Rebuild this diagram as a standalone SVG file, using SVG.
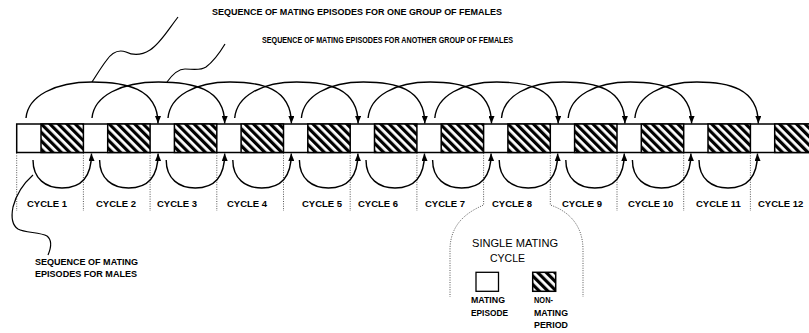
<svg xmlns="http://www.w3.org/2000/svg" width="809" height="333" viewBox="0 0 809 333">
<style>
text{font-family:"Liberation Sans",Arial,sans-serif;fill:#000}
.b{font-weight:bold}
.lab{font-size:9.5px;font-weight:bold}
.sm{font-size:8.5px;font-weight:bold}
.arc{fill:none;stroke:#000;stroke-width:1.4}
.lead{fill:none;stroke:#000;stroke-width:1.2}
.dot{fill:none;stroke:#444;stroke-width:0.9;stroke-dasharray:1 1.4}
.hat{fill:url(#hatch);stroke:#000;stroke-width:1.5}
</style>
<defs>
<pattern id="hatch" patternUnits="userSpaceOnUse" width="6" height="6" patternTransform="rotate(-45)">
<rect width="6" height="6" fill="#fff"/>
<rect width="3.2" height="6" fill="#000"/>
</pattern>
<marker id="ah" viewBox="0 0 7.5 6" refX="7.5" refY="3" markerWidth="7.5" markerHeight="6" markerUnits="userSpaceOnUse" orient="auto">
<path d="M0,0 L7.5,3 L0,6 z" fill="#000"/>
</marker>
</defs>
<rect width="809" height="333" fill="#fff"/>

<g id="bar">
<rect x="16.7" y="124" width="805" height="28.5" fill="#fff" stroke="#000" stroke-width="1.5"/>
<rect class="hat" x="41" y="124" width="42.4" height="28.5"/>
<rect class="hat" x="107.7" y="124" width="42.4" height="28.5"/>
<rect class="hat" x="174.4" y="124" width="42.4" height="28.5"/>
<rect class="hat" x="241.1" y="124" width="42.4" height="28.5"/>
<rect class="hat" x="307.8" y="124" width="42.4" height="28.5"/>
<rect class="hat" x="374.5" y="124" width="42.4" height="28.5"/>
<rect class="hat" x="441.2" y="124" width="42.4" height="28.5"/>
<rect class="hat" x="507.9" y="124" width="42.4" height="28.5"/>
<rect class="hat" x="574.6" y="124" width="42.4" height="28.5"/>
<rect class="hat" x="641.3" y="124" width="42.4" height="28.5"/>
<rect class="hat" x="708" y="124" width="42.4" height="28.5"/>
<rect class="hat" x="774.7" y="124" width="42.4" height="28.5"/>
</g>

<g id="dividers">
<path class="dot" d="M16.7,153 V211 M83.4,153 V211 M150.1,153 V211 M216.8,153 V211 M283.5,153 V211 M350.2,153 V211 M416.9,153 V211 M617,153 V211 M683.7,153 V211 M750.4,153 V211"/>
<path class="dot" d="M483.6,153 V205 C470,211 450,222 450,250 V297"/>
<path class="dot" d="M550.3,153 V205 C565,210 583,222 583,250 V297"/>
</g>

<g id="connectors">
<g id="female-arcs">
<path class="arc" marker-end="url(#ah)" d="M26,118 C28,96 55,82 92,82 C125,82 158,88 158,123.5"/>
<path class="arc" marker-end="url(#ah)" d="M92,118 C94,96 121,82 158.5,82 C192,82 224.7,88 224.7,123.5"/>
<path class="arc" marker-end="url(#ah)" d="M168,118 C170,96 195,82 230,82 C261,82 291.4,88 291.4,123.5"/>
<path class="arc" marker-end="url(#ah)" d="M234.7,118 C236.7,96 261.7,82 296.7,82 C327.7,82 358.1,88 358.1,123.5"/>
<path class="arc" marker-end="url(#ah)" d="M301.4,118 C303.4,96 328.4,82 363.4,82 C394.4,82 424.8,88 424.8,123.5"/>
<path class="arc" marker-end="url(#ah)" d="M368.1,118 C370.1,96 395.1,82 430.1,82 C461.1,82 491.5,88 491.5,123.5"/>
<path class="arc" marker-end="url(#ah)" d="M434.8,118 C436.8,96 461.8,82 496.8,82 C527.8,82 558.2,88 558.2,123.5"/>
<path class="arc" marker-end="url(#ah)" d="M501.5,118 C503.5,96 528.5,82 563.5,82 C594.5,82 624.9,88 624.9,123.5"/>
<path class="arc" marker-end="url(#ah)" d="M568.2,118 C570.2,96 595.2,82 630.2,82 C661.2,82 691.6,88 691.6,123.5"/>
<path class="arc" marker-end="url(#ah)" d="M634.9,118 C636.9,96 661.9,82 696.9,82 C727.9,82 758.3,88 758.3,123.5"/>
</g>
<g id="male-arcs">
<path class="arc" marker-end="url(#ah)" d="M33,160 C33,179 46,188 62,188 C78,188 91.5,181 91.5,153.5"/>
<path class="arc" marker-end="url(#ah)" d="M99.6,160 C99.6,179 112.6,188 128.6,188 C144.6,188 158.1,181 158.1,153.5"/>
<path class="arc" marker-end="url(#ah)" d="M166.2,160 C166.2,179 179.2,188 195.2,188 C211.2,188 224.7,181 224.7,153.5"/>
<path class="arc" marker-end="url(#ah)" d="M232.8,160 C232.8,179 245.8,188 261.8,188 C277.8,188 291.3,181 291.3,153.5"/>
<path class="arc" marker-end="url(#ah)" d="M299.4,160 C299.4,179 312.4,188 328.4,188 C344.4,188 357.9,181 357.9,153.5"/>
<path class="arc" marker-end="url(#ah)" d="M366,160 C366,179 379,188 395,188 C411,188 424.5,181 424.5,153.5"/>
<path class="arc" marker-end="url(#ah)" d="M432.6,160 C432.6,179 445.6,188 461.6,188 C477.6,188 491.1,181 491.1,153.5"/>
<path class="arc" marker-end="url(#ah)" d="M499.2,160 C499.2,179 512.2,188 528.2,188 C544.2,188 557.7,181 557.7,153.5"/>
<path class="arc" marker-end="url(#ah)" d="M565.8,160 C565.8,179 578.8,188 594.8,188 C610.8,188 624.3,181 624.3,153.5"/>
<path class="arc" marker-end="url(#ah)" d="M632.4,160 C632.4,179 645.4,188 661.4,188 C677.4,188 690.9,181 690.9,153.5"/>
<path class="arc" marker-end="url(#ah)" d="M699,160 C699,179 712,188 728,188 C744,188 757.5,181 757.5,153.5"/>
</g>
<g id="leaders">
<path class="lead" d="M178,17 C168,30 160,44 150,50 C142,55 134,56 126,52 C118,49 112,52 106,61 C100,69 96,76 92,82"/>
<path class="lead" d="M225,44 C219,54 214,61 206,67 C200,71 192,69 185,69 C178,69 172,75 167,82"/>
<path class="lead" d="M33,175 C24,183 16,195 13,207 C11,217 12,225 18,229 C25,233 40,232 47,236 C52,240 51,248 48,255"/>
</g>
</g>

<g id="labels-top">
<text class="sm" x="212" y="15" textLength="290" lengthAdjust="spacingAndGlyphs">SEQUENCE OF MATING EPISODES FOR ONE GROUP OF FEMALES</text>
<text class="sm" x="262" y="43" textLength="251" lengthAdjust="spacingAndGlyphs">SEQUENCE OF MATING EPISODES FOR ANOTHER GROUP OF FEMALES</text>
</g>

<g id="cycle-labels">
<text class="lab" x="27" y="207">CYCLE 1</text>
<text class="lab" x="96" y="207">CYCLE 2</text>
<text class="lab" x="157" y="207">CYCLE 3</text>
<text class="lab" x="227" y="207">CYCLE 4</text>
<text class="lab" x="302" y="207">CYCLE 5</text>
<text class="lab" x="358" y="207">CYCLE 6</text>
<text class="lab" x="425" y="207">CYCLE 7</text>
<text class="lab" x="492" y="207">CYCLE 8</text>
<text class="lab" x="562" y="207">CYCLE 9</text>
<text class="lab" x="628" y="207">CYCLE 10</text>
<text class="lab" x="696" y="207">CYCLE 11</text>
<text class="lab" x="758" y="207">CYCLE 12</text>
</g>

<g id="males-label">
<text class="sm" x="35" y="265" textLength="103" lengthAdjust="spacingAndGlyphs">SEQUENCE OF MATING</text>
<text class="sm" x="35" y="277" textLength="102" lengthAdjust="spacingAndGlyphs">EPISODES FOR MALES</text>
</g>

<g id="legend">
<text x="472" y="246.5" font-size="10.5" textLength="86" lengthAdjust="spacingAndGlyphs">SINGLE MATING</text>
<text x="490" y="262" font-size="10.5" textLength="35" lengthAdjust="spacingAndGlyphs">CYCLE</text>
<rect x="476" y="272.3" width="22.5" height="19" fill="#fff" stroke="#000" stroke-width="1.3"/>
<rect class="hat" x="532.7" y="272.3" width="23" height="19" stroke-width="1.3"/>
<text class="sm" x="471" y="303" textLength="34" lengthAdjust="spacingAndGlyphs">MATING</text>
<text class="sm" x="471" y="316" textLength="37" lengthAdjust="spacingAndGlyphs">EPISODE</text>
<text class="sm" x="534" y="303" textLength="19" lengthAdjust="spacingAndGlyphs">NON-</text>
<text class="sm" x="534" y="316" textLength="34" lengthAdjust="spacingAndGlyphs">MATING</text>
<text class="sm" x="534" y="328" textLength="34" lengthAdjust="spacingAndGlyphs">PERIOD</text>
</g>
</svg>
